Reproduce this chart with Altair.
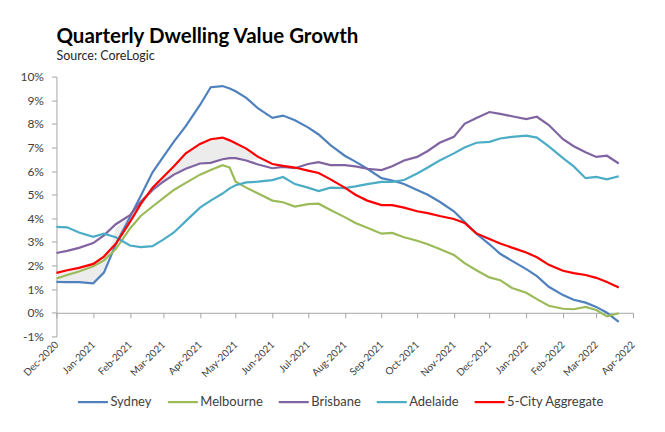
import altair as alt
import pandas as pd

dates = [
    "2020-12-01", "2020-12-10", "2020-12-20",
    "2021-01-01", "2021-01-10", "2021-01-20",
    "2021-02-01", "2021-02-10", "2021-02-20",
    "2021-03-01", "2021-03-10", "2021-03-20",
    "2021-04-01", "2021-04-10", "2021-04-20", "2021-04-26",
    "2021-05-01", "2021-05-10", "2021-05-20",
    "2021-06-01", "2021-06-10", "2021-06-20",
    "2021-07-01", "2021-07-10", "2021-07-20",
    "2021-08-01", "2021-08-10", "2021-08-20",
    "2021-09-01", "2021-09-10", "2021-09-20",
    "2021-10-01", "2021-10-10", "2021-10-20",
    "2021-11-01", "2021-11-10", "2021-11-20",
    "2021-12-01", "2021-12-10", "2021-12-20",
    "2022-01-01", "2022-01-10", "2022-01-20",
    "2022-02-01", "2022-02-10", "2022-02-20",
    "2022-03-01", "2022-03-10", "2022-03-20",
]

sydney = [1.31, 1.30, 1.30, 1.25, 1.7, 2.9, 4.06, 4.95, 5.95, 6.6, 7.25, 7.9,
          8.8, 9.55, 9.6, 9.5, 9.38, 9.1, 8.65, 8.25, 8.35, 8.15, 7.85, 7.55, 7.1,
          6.65, 6.4, 6.1, 5.7, 5.6, 5.45, 5.2, 5.0, 4.7, 4.3, 3.85, 3.35,
          2.9, 2.5, 2.2, 1.85, 1.55, 1.1, 0.75, 0.55, 0.43, 0.25, 0.0, -0.38]
melbourne = [1.45, 1.6, 1.75, 1.97, 2.22, 2.7, 3.57, 4.1, 4.5, 4.85, 5.2, 5.5,
             5.85, 6.05, 6.25, 6.15, 5.55, 5.3, 5.05, 4.75, 4.68, 4.5, 4.6, 4.62, 4.35,
             4.05, 3.8, 3.6, 3.35, 3.38, 3.2, 3.05, 2.9, 2.7, 2.45, 2.1, 1.8,
             1.5, 1.38, 1.05, 0.85, 0.58, 0.3, 0.17, 0.15, 0.25, 0.12, -0.15, -0.02]
brisbane = [2.53, 2.62, 2.75, 2.95, 3.28, 3.75, 4.13, 4.7, 5.2, 5.55, 5.85, 6.1,
            6.32, 6.35, 6.5, 6.55, 6.55, 6.45, 6.28, 6.12, 6.18, 6.12, 6.3, 6.38, 6.25,
            6.25, 6.2, 6.1, 6.04, 6.2, 6.45, 6.6, 6.85, 7.2, 7.45, 8.0, 8.25,
            8.5, 8.42, 8.32, 8.2, 8.3, 7.95, 7.35, 7.05, 6.8, 6.6, 6.65, 6.32]
adelaide = [3.64, 3.62, 3.4, 3.22, 3.35, 3.2, 2.85, 2.78, 2.82, 3.1, 3.4, 3.88,
            4.45, 4.75, 5.05, 5.27, 5.4, 5.52, 5.55, 5.62, 5.75, 5.45, 5.3, 5.15, 5.3,
            5.28, 5.35, 5.45, 5.54, 5.54, 5.62, 5.9, 6.15, 6.45, 6.75, 7.0, 7.2,
            7.24, 7.38, 7.45, 7.5, 7.42, 7.05, 6.55, 6.2, 5.7, 5.75, 5.65, 5.78]
five_city = [1.69, 1.8, 1.9, 2.07, 2.38, 2.92, 3.85, 4.6, 5.3, 5.75, 6.2, 6.75,
             7.15, 7.35, 7.42, 7.3, 7.18, 6.95, 6.6, 6.3, 6.22, 6.15, 6.02, 5.92, 5.65,
             5.3, 5.0, 4.75, 4.56, 4.56, 4.45, 4.3, 4.22, 4.1, 3.97, 3.8, 3.36,
             3.12, 2.93, 2.76, 2.55, 2.35, 2.03, 1.78, 1.68, 1.6, 1.48, 1.3, 1.07]

# shaded band edge (grey region next to the 5-City line), first 19 dates
band_edge = [1.4, 1.35, 1.3, 1.25, 1.7, 3.6, 4.1, 4.6, 5.1, 5.5, 5.85, 6.1,
             6.3, 6.35, 6.5, 6.55, 6.55, 6.45, 6.5]

series = ["Sydney", "Melbourne", "Brisbane", "Adelaide", "5-City Aggregate"]
colors = ["#4f81bd", "#9bbb59", "#8064a2", "#4bacc6", "#ff0000"]
widths = [2.2, 2.2, 2.2, 2.2, 3.6]

values = [sydney, melbourne, brisbane, adelaide, five_city]
rows = []
for name, vals in zip(series, values):
    for d, v in zip(dates, vals):
        rows.append({"date": pd.Timestamp(d), "value": v, "series": name})
df = pd.DataFrame(rows)

band_df = pd.DataFrame({
    "date": [pd.Timestamp(d) for d in dates[:len(band_edge)]],
    "red": five_city[:len(band_edge)],
    "edge": band_edge,
})

W, H = 577, 260
FONT = "Lato"

month_ticks = [alt.DateTime(year=2020, month=12, date=1)] + \
    [alt.DateTime(year=2021, month=m, date=1) for m in range(1, 13)] + \
    [alt.DateTime(year=2022, month=m, date=1) for m in range(1, 5)]

xscale = alt.Scale(domain=[alt.DateTime(year=2020, month=12, date=1),
                           alt.DateTime(year=2022, month=4, date=1)])
yscale = alt.Scale(domain=[-1, 10], nice=False)

xaxis = alt.Axis(values=month_ticks, format="%b-%Y", labelAngle=-45,
                 labelAlign="right", labelBaseline="middle", offset=-H / 11,
                 labelPadding=25, tickSize=5, grid=False, title=None,
                 labelOverlap=False, labelBound=False,
                 domainColor="#a6a6a6", tickColor="#a6a6a6", labelColor="#404040",
                 labelFont=FONT, labelFontSize=10)
yaxis = alt.Axis(values=list(range(-1, 11)), labelExpr="datum.value + '%'",
                 grid=False, title=None, tickSize=5, labelPadding=8,
                 domainColor="#a6a6a6", tickColor="#a6a6a6", labelColor="#404040",
                 labelFont=FONT, labelFontSize=12)

band = alt.Chart(band_df).mark_area(color="#ececec", opacity=1).encode(
    x=alt.X("date:T", scale=xscale, axis=xaxis),
    y=alt.Y("red:Q", scale=yscale, axis=yaxis),
    y2="edge:Q",
)

lines = alt.Chart(df).mark_line().encode(
    x=alt.X("date:T", scale=xscale, axis=xaxis),
    y=alt.Y("value:Q", scale=yscale, axis=yaxis),
    color=alt.Color("series:N", scale=alt.Scale(domain=series, range=colors),
                    sort=series,
                    legend=alt.Legend(title=None, orient="none", direction="horizontal",
                                      legendX=20, legendY=309, symbolType="stroke",
                                      symbolSize=900, symbolStrokeWidth=3,
                                      labelFont=FONT, labelFontSize=13,
                                      labelColor="#404040", labelOffset=1,
                                      columnPadding=11)),
    strokeWidth=alt.StrokeWidth("series:N", scale=alt.Scale(domain=series, range=widths),
                                legend=None),
    detail="series:N",
)

chart = alt.layer(band, lines).properties(
    width=W, height=H,
    autosize="none",
    padding={"left": 48.5, "top": 68.5, "right": 24, "bottom": 90},
    title=alt.TitleParams(
        "Quarterly Dwelling Value Growth", subtitle="Source: CoreLogic",
        anchor="start", frame="group", font=FONT, fontSize=20.5, fontWeight="bold",
        color="#000000", subtitleFont=FONT, subtitleFontSize=12.5,
        subtitleColor="#262626", offset=8, subtitlePadding=3),
).configure_view(stroke=None)

chart.save("out.html", embed_options={"renderer": "svg", "actions": False})
